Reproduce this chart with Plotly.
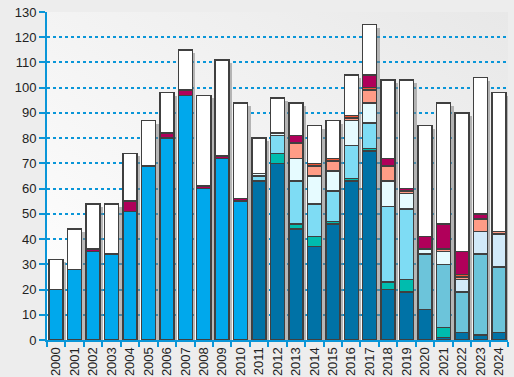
import base64
import plotly.graph_objects as go

years = [str(y) for y in range(2000, 2025)]
N = None

bright_blue = [20, 28, 35, 34, 51, 69, 80, 97, 60, 72, 55] + [N] * 14
dark_blue = [N] * 11 + [63, 70, 44, 37, 46, 63, 75, 20, 19, 12, 1, 3, 2, 3]
teal = [N] * 11 + [N, 4, 2, 4, 1, 1, 1, 3, 5, N, 4, N, N, N]
cyan = [N] * 11 + [2, 7, 17, 13, 12, 13, 10, 30, 28, N, N, N, N, N]
cyan2 = [N] * 20 + [22, 25, 16, 32, 26]
pale = [N] * 11 + [1, 1, 9, 11, 8, 10, 8, 10, 6, 2, 5, N, N, N]
pale_blue = [N] * 22 + [5, 9, 13]
salmon = [N] * 13 + [6, 4, 4, 1, 5, 6, 1, N, 1, 1, 5, 1]
red = [N] * 14 + [1, 1, 1, 1, N, N, N, N, 1, N, N]
crimson = [N, N, 1, N, 4, N, 2, 2, 1, 1, 1, N, N, 3, N, N, N, 5, 3, 1, 5, 10, 9, 2, N]
white = [12, 16, 18, 20, 19, 18, 16, 16, 36, 38, 38, 14, 14, 13, 15, 15, 16, 20, 31, 43, 44, 48, 55, 54, 55]

series = [
    ("A", bright_blue, "#00a8ec"),
    ("B", dark_blue, "#0072a6"),
    ("C", teal, "#00bcae"),
    ("D", cyan, "#7edcf4"),
    ("D2", cyan2, "#6cc4da"),
    ("E", pale, "#e6fbff"),
    ("E2", pale_blue, "#d2eaf9"),
    ("F", salmon, "#ff9c86"),
    ("G", red, "#ee5535"),
    ("H", crimson, "#b0005a"),
    ("I", white, "#ffffff"),
]

totals = []
for i in range(len(years)):
    totals.append(sum((s[1][i] or 0) for s in series))

BW = 0.76
fig = go.Figure()

# shadow (base subplot, drawn underneath)
fig.add_trace(go.Bar(
    x=years, y=totals, base=-1.2, width=BW, offset=-BW / 2 + 0.17,
    marker=dict(color="rgba(130,130,130,0.55)", line=dict(width=0)),
    xaxis="x", yaxis="y", showlegend=False, hoverinfo="skip"))

for name, vals, col in series:
    fig.add_trace(go.Bar(
        x=years, y=vals, name=name, width=BW,
        marker=dict(color=col, line=dict(color="#404040", width=1.5)),
        xaxis="x", yaxis="y2", showlegend=False))

svg = ('<svg xmlns="http://www.w3.org/2000/svg" width="100" height="100" preserveAspectRatio="none">'
       '<defs><linearGradient id="g" x1="0" y1="1" x2="1" y2="0">'
       '<stop offset="0" stop-color="#ffffff"/><stop offset="1" stop-color="#e8e8e8"/>'
       '</linearGradient></defs><rect width="100" height="100" fill="url(#g)"/></svg>')
uri = "data:image/svg+xml;base64," + base64.b64encode(svg.encode()).decode()

blue = "#0a96d8"
fig.update_layout(
    width=514, height=377,
    margin=dict(l=47, r=6, t=12, b=37, autoexpand=False),
    paper_bgcolor="#ededed",
    plot_bgcolor="rgba(0,0,0,0)",
    barmode="stack",
    font=dict(family="Liberation Sans, Arial, sans-serif", size=13, color="#222222"),
    images=[dict(source=uri, xref="paper", yref="paper", x=0, y=1, sizex=1, sizey=1,
                 sizing="stretch", layer="below", xanchor="left", yanchor="top")],
    xaxis=dict(type="category", categoryorder="array", categoryarray=years,
               tickson="boundaries", ticks="outside", ticklen=5, tickwidth=1.5,
               tickcolor=blue, showline=True, linecolor=blue, linewidth=2,
               tickangle=-90, showgrid=False, range=[-0.5, 24.5], automargin=False),
    yaxis=dict(range=[0, 130], dtick=10, showgrid=True, gridcolor=blue, griddash="dot",
               gridwidth=1.5, ticks="outside", ticklen=6, tickwidth=1.5, tickcolor=blue,
               showline=True, linecolor=blue, linewidth=2, zeroline=False, automargin=False),
    yaxis2=dict(overlaying="y", matches="y", visible=False, range=[0, 130]),
)

fig.write_html("out.html", config={"displayModeBar": False},
               post_script="document.body.style.margin='0';document.body.style.background='#ededed';")
